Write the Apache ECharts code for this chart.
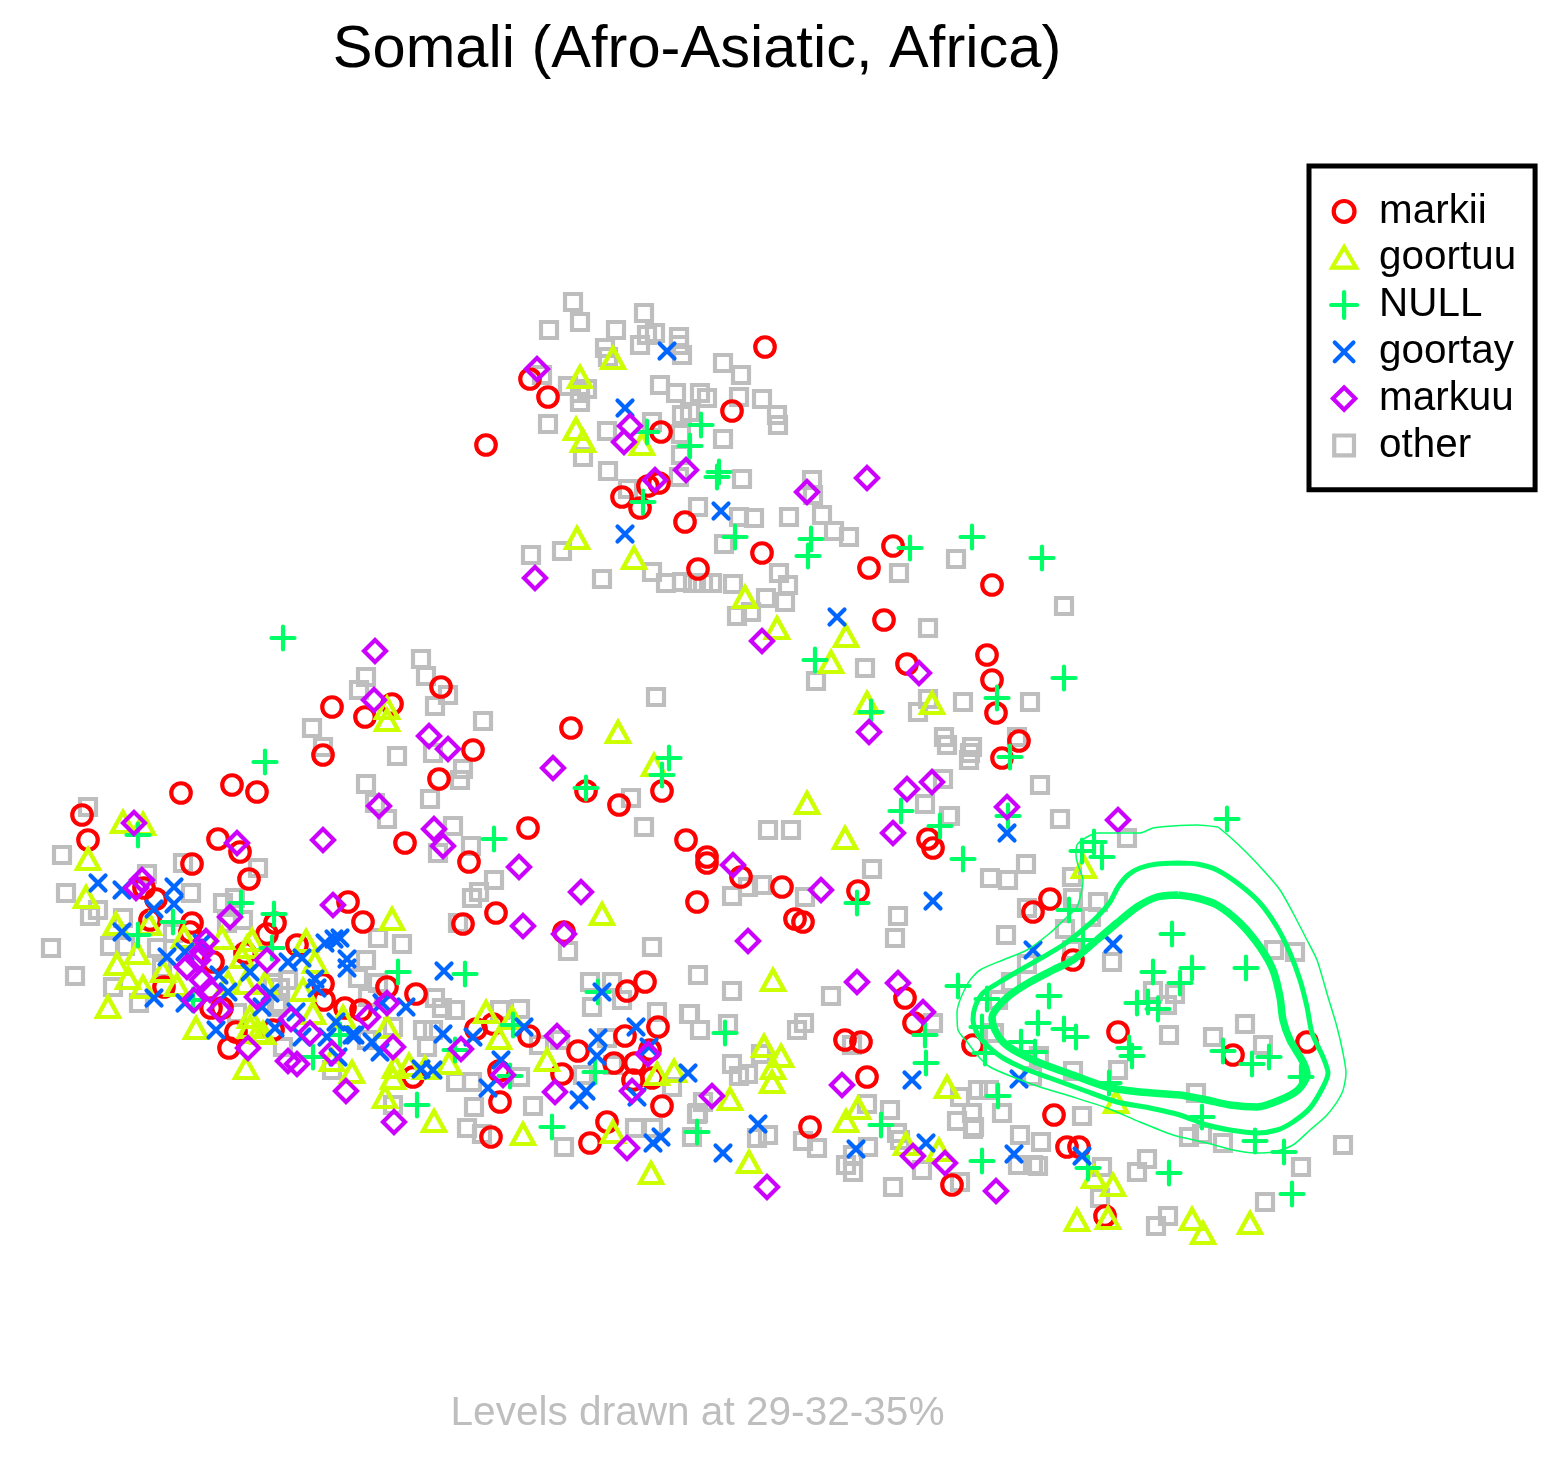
<!DOCTYPE html>
<html>
<head>
<meta charset="utf-8">
<title>Somali</title>
<script src="https://cdn.jsdelivr.net/npm/echarts@6/dist/echarts.min.js"></script>
<style>
  html, body { margin: 0; padding: 0; background: #fff; }
  #chart { width: 1562px; height: 1464px; }
</style>
</head>
<body>
<div id="chart"></div>
<script>
// values, in the plot's own units (1 unit = 1 px, y going down)
var markii = [[765,347],[530,379],[548,397],[732,411],[486,445],[661,432],[622,497],[648,486],[659,483],[640,508],[685,522],[762,553],[698,569],[893,546],[869,568],[992,585],[884,620],[907,664],[987,655],[992,680],[996,713],[1019,741],[1002,758],
[441,687],[392,704],[365,717],[332,707],[323,755],[473,750],[439,779],[571,728],[181,793],[232,785],[257,792],[82,815],[88,840],[218,839],[240,852],[192,864],[249,879],[405,843],[469,862],[528,828],[586,791],[619,805],[662,791],[686,840],[707,857],[707,863],[741,877],[782,887],[697,902],[858,891],[795,919],[803,922],[928,839],[933,848],[496,913],[463,924],[564,932],[363,922],[348,902],
[144,888],[156,899],[150,920],[192,923],[190,932],[275,923],[267,934],[297,945],[213,962],[245,953],[164,987],[323,984],[324,1000],[345,1008],[361,1010],[387,987],[416,994],[211,1008],[222,1008],[236,1032],[229,1048],[273,1030],[413,1077],
[476,1029],[493,1024],[529,1036],[499,1071],[500,1102],[491,1137],[578,1051],[562,1074],[614,1063],[625,1036],[645,982],[627,991],[658,1027],[650,1050],[635,1063],[633,1080],[652,1078],[662,1106],[607,1122],[590,1143],
[905,998],[914,1023],[845,1040],[861,1042],[867,1077],[810,1127],[952,1185],[973,1045],[1050,899],[1033,912],[1073,960],[1118,1032],[1233,1055],[1307,1042],[1054,1115],[1067,1147],[1079,1147],[1105,1216]];

var goortuu = [[613,358],[580,377],[576,429],[583,441],[642,444],[577,538],[634,558],[745,597],[777,628],[846,636],[831,662],[867,703],[932,703],[807,803],[845,838],
[387,708],[387,720],[618,732],[654,765],[602,914],[392,919],[306,941],[315,962],
[123,822],[143,824],[88,859],[86,897],[116,924],[149,924],[137,953],[117,964],[128,978],[143,987],[108,1007],[163,971],[177,985],[184,937],[222,938],[252,940],[247,947],[242,957],[245,983],[265,983],[303,990],[228,983],[313,1013],[250,1017],[343,1017],[387,1027],[196,1028],[250,1027],[263,1033],[246,1068],[332,1060],[352,1072],[395,1067],[409,1065],[425,1068],[393,1078],[385,1097],[434,1121],[258,1032],
[486,1012],[512,1018],[499,1038],[547,1060],[449,1063],[523,1134],[613,1132],[651,1173],[657,1074],[674,1071],
[773,980],[764,1046],[781,1056],[773,1068],[772,1082],[730,1099],[749,1162],[858,1108],[846,1121],[947,1087],[906,1144],[939,1150],
[1084,867],[1116,1102],[1094,1177],[1113,1185],[1077,1220],[1108,1218],[1192,1219],[1203,1233],[1250,1223]];

var nullPts = [[647,432],[701,425],[690,446],[719,472],[717,477],[643,502],[735,537],[811,539],[808,556],[910,548],[972,537],[1042,558],[815,660],[871,712],[997,698],[1064,678],[1010,757],[901,811],[940,826],[1008,816],[963,859],
[283,638],[265,762],[669,758],[662,775],[586,788],[494,839],[398,972],[465,974],
[138,835],[241,903],[274,914],[173,922],[138,935],[272,948],[193,1000],[340,1035],[313,1057],[417,1105],
[598,992],[513,1025],[455,1050],[510,1076],[595,1072],[552,1127],[697,1132],[725,1033],[857,903],[925,1035],[926,1063],[881,1125],
[1227,819],[1094,842],[1082,851],[1102,857],[1069,910],[1083,940],[1172,934],[958,986],[987,999],[1049,996],[1246,968],[1192,968],[1180,983],[1153,972],[1148,1002],[1137,1003],[1158,1009],[1038,1023],[1064,1029],[1076,1037],[982,1027],[1021,1042],[1035,1052],[985,1053],[1129,1048],[1132,1056],[1223,1051],[1252,1064],[1269,1057],[1301,1077],[1109,1083],[1202,1117],[1255,1141],[1284,1152],[998,1096],[982,1161],[1088,1168],[1169,1173],[1292,1194]];

var goortay = [[667,351],[625,408],[625,534],[721,511],[837,617],[1007,833],[933,901],[688,1073],[912,1080],[758,1124],[723,1153],[856,1149],[926,1143],[1033,950],[1113,944],[1019,1079],[1014,1154],[1082,1156],
[444,971],[602,992],[406,1007],[382,1003],[355,1035],[372,1042],[380,1052],[443,1034],[473,1037],[524,1027],[501,1060],[488,1088],[421,1069],[433,1070],[598,1038],[597,1056],[636,1027],[649,1047],[586,1091],[579,1100],[637,1097],[661,1137],[653,1143],
[98,883],[122,890],[174,887],[154,909],[174,904],[122,932],[167,957],[154,998],[185,1003],[216,1030],[219,975],[228,992],[250,972],[288,962],[302,958],[325,943],[334,939],[340,938],[347,959],[347,968],[315,979],[317,988],[262,1007],[275,1028],[296,1012],[336,1022],[352,1035],[327,1037],[302,1037],[202,943],[185,952],[270,993],[338,1057]];

var markuu = [[537,369],[630,426],[624,442],[655,480],[686,470],[807,492],[867,478],[535,578],[762,641],[919,673],[869,732],[932,782],[907,789],[1007,807],[893,833],[1118,820],
[375,651],[374,700],[429,736],[448,749],[553,768],[379,806],[323,840],[434,829],[443,846],[519,867],[581,892],[523,926],[564,934],[333,905],
[134,823],[237,843],[142,880],[136,888],[230,917],[206,941],[202,952],[198,960],[187,967],[202,980],[210,990],[194,1000],[220,1010],[267,960],[257,997],[291,1019],[310,1033],[248,1048],[288,1061],[297,1064],[332,1053],[346,1091],[394,1122],[368,1017],[387,1003],[393,1047],
[557,1036],[461,1049],[503,1075],[555,1092],[632,1091],[648,1054],[627,1148],
[733,865],[821,890],[748,941],[857,982],[898,983],[923,1012],[842,1085],[712,1096],[913,1156],[945,1163],[767,1187],[996,1191]];

var other = [[573,302],[580,322],[549,330],[644,313],[616,330],[605,348],[608,357],[640,345],[647,335],[655,333],[679,337],[679,345],[682,355],[723,363],[741,375],[542,375],[568,386],[587,389],[580,393],[580,402],[660,385],[676,393],[700,393],[707,398],[739,397],[762,399],[777,415],[778,425],[548,424],[652,422],[682,415],[690,412],[607,431],[681,434],[723,439],[583,457],[608,471],[681,455],[679,477],[742,479],[628,489],[812,480],[813,495],[822,515],[834,531],[849,537],[698,507],[739,517],[754,518],[789,517],[724,544],[531,555],[562,551],[602,579],[652,572],[666,583],[682,582],[693,583],[703,583],[712,583],[733,584],[779,573],[788,585],[766,598],[785,602],[751,612],[737,616],
[956,559],[899,573],[1064,606],[928,628],[865,668],[816,681],[928,699],[918,712],[963,702],[1030,702],[944,737],[947,745],[972,747],[970,753],[969,760],[1017,737],[943,779],[1040,785],[925,804],[950,816],[1060,819],[768,830],[791,830],
[421,659],[426,676],[366,677],[359,690],[448,695],[435,706],[483,721],[312,728],[323,747],[397,756],[656,697],[433,753],[463,769],[460,780],[430,799],[366,784],[375,803],[387,819],[631,798],[644,827],[453,826],[471,846],[438,853],[494,880],[479,892],[472,898],[458,923],[568,951],[652,947],[366,960],[378,938],[402,944],[698,975],[590,982],[612,982],
[88,807],[62,855],[147,874],[183,863],[258,868],[66,893],[191,893],[98,910],[90,916],[123,918],[223,903],[235,898],[243,920],[51,948],[110,946],[125,946],[75,976],[113,987],[139,1003],[162,968],[157,948],[173,933],[227,923],[358,978],[378,983],[283,1047],[332,1070],[368,997],[435,998],[442,1008],[423,1030],[433,1030],[427,1047],[393,1027],[367,1040],[393,1105],[288,980],[280,988],[237,1013],[277,1007],[280,1003],[273,983],
[592,1007],[622,1000],[657,1012],[690,1014],[700,1030],[455,1010],[500,1010],[520,1009],[456,1082],[472,1082],[520,1077],[474,1107],[533,1106],[467,1128],[482,1134],[564,1147],[635,1128],[653,1128],[583,1075],[613,1065],[672,1087],[692,1137],[698,1113],[539,1045],[560,1040],[607,1038],
[872,869],[732,896],[748,887],[762,885],[805,897],[898,916],[895,938],[732,991],[831,996],[689,1014],[728,1024],[804,1023],[797,1030],[933,1023],[852,1045],[732,1064],[761,1054],[739,1076],[748,1074],[703,1102],[697,1114],[757,1138],[768,1135],[803,1141],[817,1148],[867,1104],[890,1110],[868,1147],[853,1155],[846,1165],[853,1172],[897,1133],[900,1140],[922,1170],[893,1187],[960,1097],[978,1090],[957,1121],[972,1113],[973,1129],[960,1182],
[949,816],[1127,838],[1026,864],[1008,880],[990,878],[1072,877],[1027,908],[1073,898],[1098,902],[1091,917],[1065,929],[1006,935],[1072,950],[1112,962],[1027,964],[1011,982],[998,1000],[1274,950],[1295,952],[1153,991],[1175,994],[1167,1005],[994,1033],[1169,1035],[1245,1024],[1213,1037],[1263,1045],[1039,1056],[1032,1076],[1073,1071],[1118,1070],[1196,1093],[989,1090],[1002,1113],[974,1127],[1082,1116],[1020,1135],[1041,1142],[1189,1137],[1202,1134],[1223,1143],[1343,1145],[1147,1159],[1137,1172],[1018,1165],[1033,1165],[1038,1166],[1102,1167],[1301,1167],[1100,1198],[1265,1202],[1168,1216],[1156,1226]];

// density contours
var level29 = [[1218,827],[1197,825],[1173,826],[1153,828],[1140,833],[1120,833],[1098,833],[1087,837],[1077,845],[1076,855],[1078,865],[1083,880],[1077,907],[1067,917],[1050,933],[1027,950],[1003,960],[980,970],[968,983],[957,1013],[958,1030],[968,1043],[977,1055],[990,1067],[1013,1077],[1040,1087],[1073,1097],[1107,1108],[1140,1122],[1173,1135],[1207,1143],[1233,1150],[1255,1153],[1273,1152],[1293,1145],[1310,1130],[1327,1115],[1342,1093],[1346,1073],[1343,1053],[1337,1027],[1328,997],[1317,960],[1307,940],[1293,913],[1280,890],[1263,870],[1247,853],[1230,837],[1218,827]];
var level32 = [[1178,863],[1157,864],[1140,868],[1128,875],[1118,887],[1110,902],[1097,917],[1080,932],[1063,945],[1043,957],[1020,970],[998,983],[983,993],[975,1007],[973,1020],[978,1035],[990,1048],[1003,1058],[1023,1068],[1050,1078],[1083,1090],[1117,1102],[1150,1108],[1180,1115],[1207,1125],[1230,1130],[1257,1133],[1277,1130],[1293,1122],[1310,1108],[1323,1087],[1328,1073],[1323,1057],[1312,1033],[1307,1007],[1300,980],[1290,953],[1277,927],[1260,903],[1240,885],[1217,870],[1197,864],[1178,863]];
var level35 = [[1178,895],[1157,897],[1137,907],[1117,923],[1097,940],[1073,960],[1053,970],[1030,982],[1010,995],[997,1008],[992,1018],[995,1030],[1003,1042],[1017,1052],[1040,1063],[1073,1075],[1107,1087],[1140,1092],[1180,1095],[1207,1100],[1230,1105],[1257,1107],[1280,1100],[1298,1090],[1307,1075],[1303,1062],[1290,1040],[1283,1020],[1280,997],[1273,970],[1260,947],[1240,923],[1217,905],[1197,898],[1178,895]];

var legendNames = ["markii", "goortuu", "NULL", "goortay", "markuu", "other"];

var PLUS = "path://M-1 0H1M0 -1V1";
var CROSS = "path://M-1 -1L1 1M-1 1L1 -1";
var STROKE = 4.2;

// legend icons: the first two moves only fix the bounding box so every icon keeps its own size
var BOX = "path://M-1 -1M1 1";
var legendIcons = [
  BOX + "M-.8 0A.8 .8 0 1 1 .8 0A.8 .8 0 1 1 -.8 0Z",
  BOX + "M0 -.85L.92 .72L-.92 .72Z",
  PLUS,
  BOX + "M-.72 -.72L.72 .72M-.72 .72L.72 -.72",
  BOX + "M0 -.86L.86 0L0 .86L-.86 0Z",
  BOX + "M-.76 -.76H.76V.76H-.76Z"
];

function pointSeries(name, data, color, symbol, size) {
  return {
    type: "scatter",
    name: name,
    data: data,
    symbol: symbol,
    symbolSize: size,
    silent: true,
    itemStyle: { color: "transparent", borderColor: color, borderWidth: STROKE, borderCap: "round", opacity: 1 }
  };
}

function contour(name, data, width) {
  return {
    type: "line",
    name: name,
    data: data,
    symbol: "none",
    smooth: 0.25,
    silent: true,
    lineStyle: { color: "#00FF66", width: width }
  };
}

var chart = echarts.init(document.getElementById("chart"));
chart.setOption({
  animation: false,
  title: [
    {
      text: "Somali (Afro-Asiatic, Africa)",
      left: 692, top: 46, textAlign: "center", textVerticalAlign: "middle",
      textStyle: { fontFamily: "Liberation Sans", fontSize: 59.6, fontWeight: "normal", color: "#000" }
    },
    {
      text: "Levels drawn at 29-32-35%",
      left: 692.5, top: 1409, textAlign: "center", textVerticalAlign: "middle",
      textStyle: { fontFamily: "Liberation Sans", fontSize: 40.6, fontWeight: "normal", color: "#BEBEBE" }
    }
  ],
  grid: { left: 0, right: 0, top: 0, bottom: 0 },
  xAxis: { type: "value", min: 0, max: 1562, show: false },
  yAxis: { type: "value", min: 0, max: 1464, inverse: true, show: false },
  legend: {
    orient: "vertical",
    left: 1309, top: 166,
    padding: [22, 19, 21, 20],
    itemGap: 0,
    itemWidth: 26, itemHeight: 26,
    borderColor: "#000", borderWidth: 5,
    selectedMode: false,
    itemStyle: { borderWidth: STROKE },
    textStyle: { fontFamily: "Liberation Sans", fontSize: 40.4, color: "#000", lineHeight: 38.8, padding: [8, 0, 0, 17] },
    data: legendNames.map(function (name, i) {
      return { name: name, icon: legendIcons[i] };
    })
  },
  series: [
    contour("level 29", level29, 1.5),
    contour("level 32", level32, 5),
    contour("level 35", level35, 7.5),
    pointSeries("other", other, "#BEBEBE", "rect", 16),
    pointSeries("markii", markii, "#FF0000", "circle", 19.5),
    pointSeries("goortuu", goortuu, "#CCFF00", "triangle", [22, 20]),
    pointSeries("NULL", nullPts, "#00FF66", PLUS, 23),
    pointSeries("goortay", goortay, "#0066FF", CROSS, 15),
    pointSeries("markuu", markuu, "#CC00FF", "diamond", 22)
  ]
});
</script>
</body>
</html>
